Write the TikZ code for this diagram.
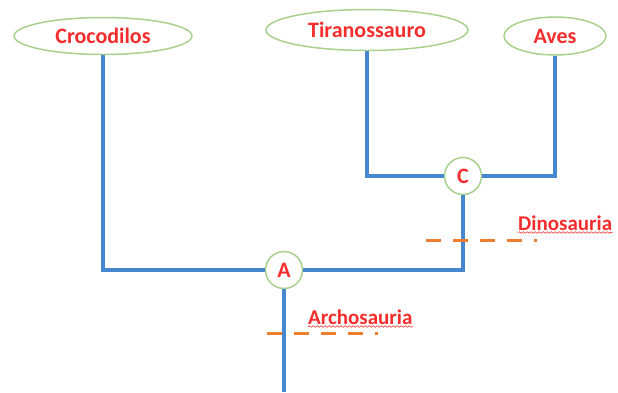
\documentclass[tikz,border=0pt]{standalone}
\usepackage{fontspec}
\setmainfont{Carlito}
\usetikzlibrary{shapes.geometric, decorations.pathmorphing}

\definecolor{branchblue}{RGB}{70,135,205}
\definecolor{leafgreen}{RGB}{169,209,142}
\definecolor{labelred}{RGB}{245,45,45}
\definecolor{cutorange}{RGB}{237,125,49}

\tikzset{
  leaf/.style={ellipse, draw=leafgreen, line width=1.5pt, fill=white, inner sep=0pt,
               text=labelred, font=\bfseries\fontsize{22}{25}\selectfont},
  clade/.style={circle, draw=leafgreen, line width=1.5pt, fill=white, minimum size=37pt,
                inner sep=0pt, text=labelred, font=\bfseries\fontsize{22}{25}\selectfont},
  branch/.style={draw=branchblue, line width=4pt, line join=miter},
  cut/.style={draw=cutorange, line width=3pt, dash pattern=on 15pt off 12pt},
  groupname/.style={anchor=base west, inner sep=0pt, text=labelred,
                    font=\bfseries\fontsize{21}{24}\selectfont},
  squiggle/.style={draw=labelred, line width=0.6pt,
                   decorate, decoration={snake, segment length=4pt, amplitude=0.8pt}}
}

\begin{document}
\begin{tikzpicture}[x=1pt, y=-1pt]
        \useasboundingbox (0,0) rectangle (618,392);

        % Tips of the tree
        \node[leaf, minimum width=178pt, minimum height=37pt] (croc) at (103,36) {Crocodilos};
        \node[leaf, minimum width=202pt, minimum height=41pt] (tira) at (367,30) {Tiranossauro};
        \node[leaf, minimum width=102pt, minimum height=38pt] (aves) at (555,36) {Aves};

        % Inner nodes
        \node[clade] (C) at (463,176) {C};
        \node[clade] (A) at (284,270) {A};
        \coordinate (root) at (284,392);

        % Branches
        \path[branch] (tira) |- (C);
        \path[branch] (aves) |- (C);
        \path[branch] (croc) |- (A);
        \path[branch] (C) |- (A);
        \path[branch] (A) -- (root);

        % Group cuts
        \draw[cut] (426,240) -- (537,240);
        \draw[cut] (267,333) -- (378,333);

        \node[groupname] (dino) at (518,230) {Dinosauria};
        \node[groupname] (arch) at (308,324) {Archosauria};
        \draw[squiggle] ([yshift=-2.5pt]dino.base west) -- ([yshift=-2.5pt]dino.base east);
        \draw[squiggle] ([yshift=-2.5pt]arch.base west) -- ([yshift=-2.5pt]arch.base east);

    \end{tikzpicture}
\end{document}
